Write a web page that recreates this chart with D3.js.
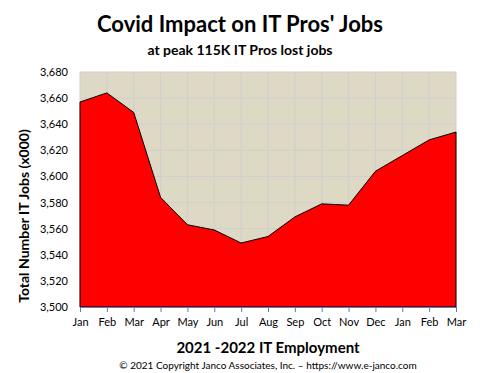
<!DOCTYPE html>
<html><head><meta charset="utf-8">
<script src="https://cdn.jsdelivr.net/npm/d3@7"></script>
<style>body{margin:0;background:#fff;} svg{display:block;font-family:Lato,"Open Sans",sans-serif;}</style>
</head><body><svg id="c" width="480" height="373"></svg>
<script>
const months = ["Jan","Feb","Mar","Apr","May","Jun","Jul","Aug","Sep","Oct","Nov","Dec","Jan","Feb","Mar"];
const jobs = [3657,3664,3649,3584,3563,3559,3549,3554,3569,3579,3578,3604,3616,3628,3634];
const yTicks = [3500,3520,3540,3560,3580,3600,3620,3640,3660,3680];

const svg = d3.select("#c");
const L=80, R=456, T=72, B=307;
const idx = months.map((m,i)=>i);
const x = d3.scalePoint().domain(idx).range([L,R]);
const y = d3.scaleLinear().domain([3500,3680]).range([B,T]);

svg.append("rect").attr("x",L).attr("y",T).attr("width",R-L).attr("height",B-T).attr("fill","#ddd9c4");
// grid
svg.append("g").selectAll("line").data(yTicks).join("line")
  .attr("x1",L).attr("x2",R).attr("y1",d=>y(d)).attr("y2",d=>y(d))
  .attr("stroke","#cfcfcf").attr("stroke-width",1);
svg.append("g").selectAll("line").data(idx).join("line")
  .attr("x1",d=>x(d)).attr("x2",d=>x(d)).attr("y1",T).attr("y2",B)
  .attr("stroke","#cfcfcf").attr("stroke-width",1);

const area = d3.area().x((d,i)=>x(i)).y0(y(3500)).y1(d=>y(d));
svg.append("path").datum(jobs).attr("d",area).attr("fill","#ff0000").attr("stroke","#000").attr("stroke-width",1);

// y axis labels
const ya = svg.append("g").attr("transform",`translate(${L},0)`)
  .call(d3.axisLeft(y).tickValues(yTicks).tickSize(0).tickPadding(12).tickFormat(d3.format(",")));
ya.select(".domain").remove();
ya.selectAll("text").attr("font-size",11).attr("font-family","Lato,sans-serif").attr("fill","#000");

// x axis
const xa = svg.append("g").attr("transform",`translate(0,${B})`)
  .call(d3.axisBottom(x).tickSize(5).tickPadding(6).tickFormat(i=>months[i]));
xa.select(".domain").attr("stroke","#4f81bd");
xa.selectAll(".tick line").attr("stroke","#4f81bd");
xa.selectAll("text").attr("font-size",11).attr("font-family","Lato,sans-serif").attr("fill","#000");

svg.append("text").attr("x",240).attr("y",32).attr("text-anchor","middle")
  .attr("font-size",22).attr("font-weight","bold").text("Covid Impact on IT Pros' Jobs");
svg.append("text").attr("x",240).attr("y",55).attr("text-anchor","middle")
  .attr("font-size",14).attr("font-weight","bold").text("at peak 115K IT Pros lost jobs");
svg.append("text").attr("transform","translate(29,216) rotate(-90)").attr("text-anchor","middle")
  .attr("font-size",14).attr("font-weight","bold").text("Total Number IT Jobs (x000)");
svg.append("text").attr("x",268).attr("y",353).attr("text-anchor","middle")
  .attr("font-size",15).attr("font-weight","bold").text("2021 -2022 IT Employment");
svg.append("text").attr("x",268).attr("y",369).attr("text-anchor","middle")
  .attr("font-size",10).text("© 2021 Copyright Janco Associates, Inc. – https://www.e-janco.com");
</script></body></html>
